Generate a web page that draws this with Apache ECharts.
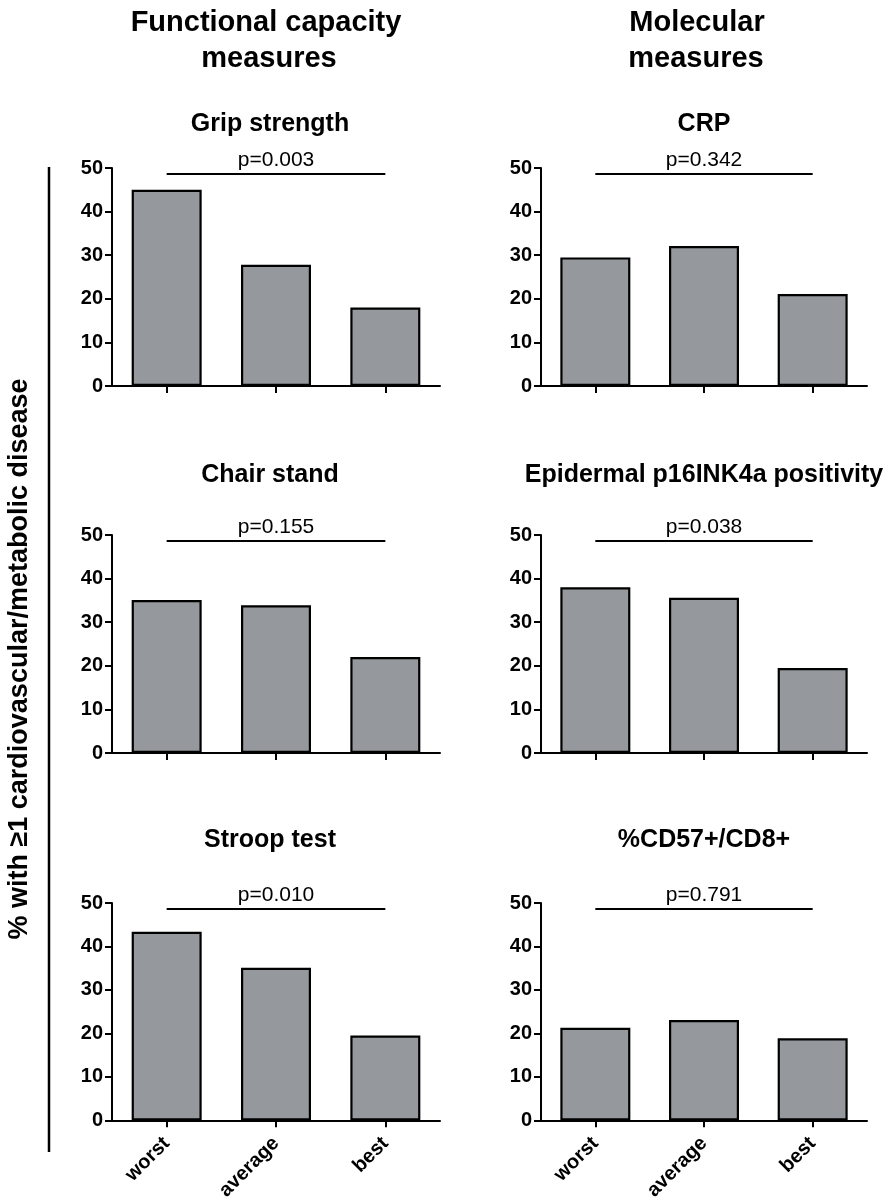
<!DOCTYPE html>
<html>
<head>
<meta charset="utf-8">
<script src="https://cdn.jsdelivr.net/npm/echarts@6/dist/echarts.min.js"></script>
<style>
html,body{margin:0;padding:0;background:#fff;}
#chart{width:890px;height:1203px;}
</style>
</head>
<body>
<div id="chart"></div>
<script>
// ---- data ----
const categories = ['worst', 'average', 'best'];
const yTicks = [0, 10, 20, 30, 40, 50];
const gripStrength = [45.0, 27.8, 18.0];
const chairStand = [35.1, 33.9, 22.0];
const stroopTest = [43.4, 35.1, 19.5];
const crp = [29.5, 32.1, 21.1];
const p16ink4a = [38.0, 35.6, 19.5];
const cd57cd8 = [21.3, 23.1, 18.9];
const panelTitles = ['Grip strength', 'Chair stand', 'Stroop test', 'CRP', 'Epidermal p16INK4a positivity', '%CD57+/CD8+'];
const pValues = ['p=0.003', 'p=0.155', 'p=0.010', 'p=0.342', 'p=0.038', 'p=0.791'];
const pLineLevel = 48.7;
const columnHeaders = [['Functional capacity', 'measures'], ['Molecular', 'measures']];
const yAxisTitle = '% with \u22651 cardiovascular/metabolic disease';

const panelData = [gripStrength, chairStand, stroopTest, crp, p16ink4a, cd57cd8];

// ---- layout ----
const FONT = "'Liberation Sans', Arial, Helvetica, sans-serif";
const colLeft = [112, 541];
const colWidth = [328, 326];
const rowTop = [168, 535, 903];
const plotH = 218;
const titleMid = [124, 475, 840.5];
const titleCenterX = [270, 704];

const grids = [], xAxes = [], yAxes = [], series = [], graphics = [];

for (let i = 0; i < 6; i++) {
  const col = Math.floor(i / 3), row = i % 3;
  grids.push({ left: colLeft[col], top: rowTop[row], width: colWidth[col], height: plotH, containLabel: false });
  xAxes.push({
    type: 'category', gridIndex: i, data: categories, boundaryGap: true,
    axisLine: { show: true, lineStyle: { color: '#000', width: 2 } },
    axisTick: { show: true, alignWithLabel: true, length: 7, lineStyle: { color: '#000', width: 2 } },
    axisLabel: { show: row === 2, rotate: 45, margin: 20, color: '#000', fontSize: 20, fontWeight: 'bold', fontFamily: FONT },
    splitLine: { show: false }
  });
  yAxes.push({
    type: 'value', gridIndex: i, min: yTicks[0], max: yTicks[yTicks.length - 1], interval: yTicks[1] - yTicks[0],
    axisLine: { show: true, lineStyle: { color: '#000', width: 2 } },
    axisTick: { show: true, length: 7, lineStyle: { color: '#000', width: 2 } },
    axisLabel: { show: true, margin: 9, color: '#000', fontSize: 20, fontWeight: 'bold', fontFamily: FONT },
    splitLine: { show: false }
  });
  series.push({
    type: 'bar', xAxisIndex: i, yAxisIndex: i, data: panelData[i], barWidth: 70,
    itemStyle: { color: '#95989c', borderColor: '#000', borderWidth: 2.2 },
    silent: true,
    markLine: {
      silent: true, symbol: ['none', 'none'], animation: false,
      lineStyle: { color: '#000', width: 2, type: 'solid' },
      label: { show: true, position: 'middle', formatter: pValues[i], color: '#000', fontSize: 21, fontFamily: FONT, distance: 3 },
      data: [[{ coord: [categories[0], pLineLevel] }, { coord: [categories[2], pLineLevel] }]]
    }
  });
  graphics.push({
    type: 'text', x: titleCenterX[col], y: titleMid[row],
    style: { text: panelTitles[i], fill: '#000', font: "bold 25px " + FONT, textAlign: 'center', textVerticalAlign: 'middle' }
  });
}

// column headers
const headerX = [[266, 269], [697, 696]];
const headerY = [23, 59];
for (let c = 0; c < 2; c++) {
  for (let l = 0; l < 2; l++) {
    graphics.push({
      type: 'text', x: headerX[c][l], y: headerY[l],
      style: { text: columnHeaders[c][l], fill: '#000', font: "bold 29px " + FONT, textAlign: 'center', textVerticalAlign: 'middle' }
    });
  }
}
// y-axis title + bracket line
graphics.push({
  type: 'text', x: 20, y: 659, rotation: Math.PI / 2,
  style: { text: yAxisTitle, fill: '#000', font: "bold 27px " + FONT, textAlign: 'center', textVerticalAlign: 'middle' }
});
graphics.push({
  type: 'line', shape: { x1: 49, y1: 167, x2: 49, y2: 1152 },
  style: { stroke: '#000', lineWidth: 2.5 }
});

const chart = echarts.init(document.getElementById('chart'), null, { renderer: 'canvas' });
chart.setOption({
  animation: false,
  backgroundColor: '#fff',
  grid: grids, xAxis: xAxes, yAxis: yAxes, series: series, graphic: graphics
});
</script>
</body>
</html>
